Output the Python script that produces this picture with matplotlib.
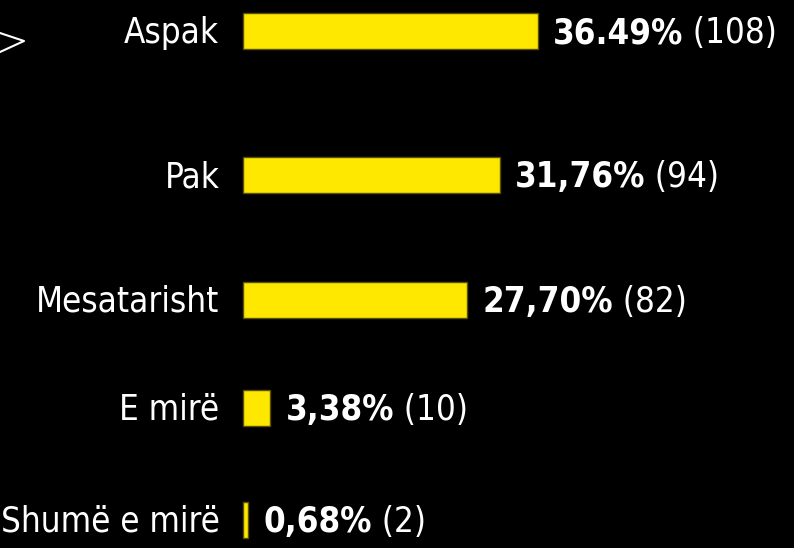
import matplotlib.pyplot as plt

labels = ["Aspak", "Pak", "Mesatarisht", "E mirë", "Shumë e mirë"]
percents = [36.49, 31.76, 27.70, 3.38, 0.68]
pct_text = ["36.49%", "31,76%", "27,70%", "3,38%", "0,68%"]
counts = ["(108)", "(94)", "(82)", "(10)", "(2)"]

# row centres in pixels from the top (the original spacing is uneven)
rows = [31, 175, 300, 408, 520]

W, H = 794, 548
fig = plt.figure(figsize=(W / 100, H / 100), dpi=100, facecolor="black")
ax = fig.add_axes([0, 0, 1, 1])
ax.set_facecolor("black")

px = 8.08  # pixels per percent
x0 = 243
ax.set_xlim(-x0 / px, (W - x0) / px)
ax.set_ylim(H, 0)
ax.axis("off")

ax.barh(rows, percents, height=36, color="#ffe800", edgecolor="#5a5200", linewidth=1)

fnt = dict(family="DejaVu Sans", fontstretch="condensed", color="white", va="center")
for y, lab, p, pt, c in zip(rows, labels, percents, pct_text, counts):
    ax.annotate(lab, (0, y + 2), xytext=(-17, 0), textcoords="offset points",
                ha="right", fontsize=25, **fnt)
    t = ax.annotate(pt, (p, y + 2), xytext=(11, 0), textcoords="offset points",
                    ha="left", fontsize=25, fontweight="bold", **fnt)
    ax.annotate(" " + c, xycoords=t, xy=(1, 0.5), ha="left", fontsize=25, **fnt)

# little arrow at top left
fig.lines.append(plt.Line2D([0 / W, 24 / W, 0 / W], [1 - 33 / H, 1 - 41 / H, 1 - 52 / H],
                            transform=fig.transFigure, color="white", linewidth=1.5))

fig.savefig("out.png", dpi=100, facecolor="black")
